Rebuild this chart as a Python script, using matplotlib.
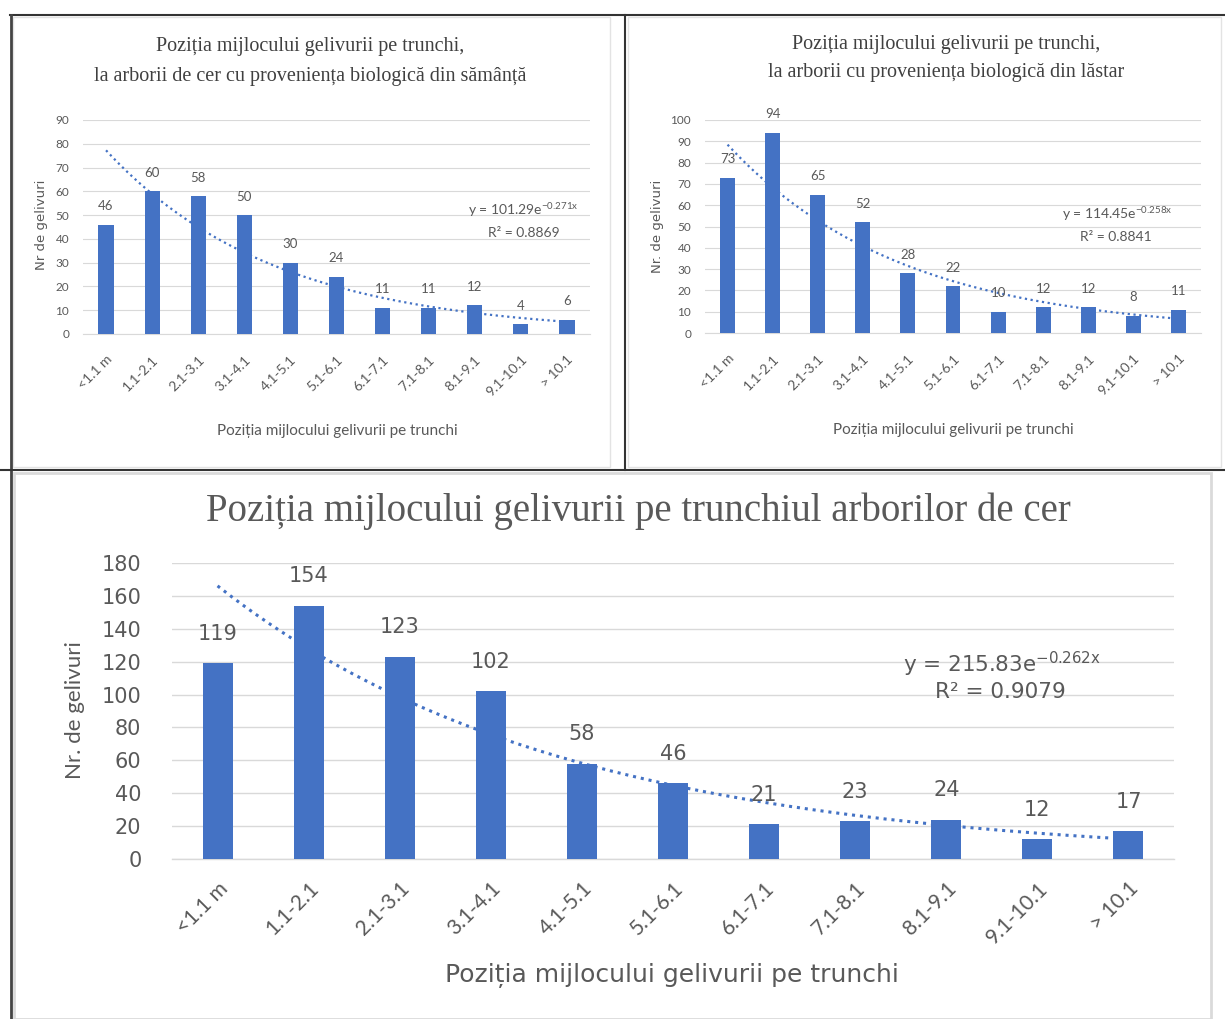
import numpy as np
import matplotlib.pyplot as plt
from matplotlib.lines import Line2D
from matplotlib.patches import Rectangle

W, H = 1225, 1019

categorii = ['<1.1 m', '1.1-2.1', '2.1-3.1', '3.1-4.1', '4.1-5.1', '5.1-6.1',
             '6.1-7.1', '7.1-8.1', '8.1-9.1', '9.1-10.1', '> 10.1']
samanta = [46, 60, 58, 50, 30, 24, 11, 11, 12, 4, 6]
lastar = [73, 94, 65, 52, 28, 22, 10, 12, 12, 8, 11]
total = [119, 154, 123, 102, 58, 46, 21, 23, 24, 12, 17]

# coeficientii liniei de tendinta exponentiale (y = a*e^(b*x)) si R^2
trend_samanta = (101.29, -0.271, 0.8869)
trend_lastar = (114.45, -0.258, 0.8841)
trend_total = (215.83, -0.262, 0.9079)

ALBASTRU = '#4472C4'
GRI_TEXT = '#595959'
GRI_GRID = '#D9D9D9'
SERIF = 'Liberation Serif'
CALIBRI = 'Lato'

fig = plt.figure(figsize=(W / 100, H / 100), dpi=100)


def ax_px(left, top, right, bottom):
    return fig.add_axes([left / W, 1 - bottom / H, (right - left) / W, (bottom - top) / H])


def ftext(x, y, s, **kw):
    return fig.text(x / W, 1 - y / H, s, **kw)


def fline(x0, y0, x1, y1, **kw):
    fig.add_artist(Line2D([x0 / W, x1 / W], [1 - y0 / H, 1 - y1 / H],
                          transform=fig.transFigure, **kw))


def frect(x0, y0, x1, y1, **kw):
    fig.add_artist(Rectangle((x0 / W, 1 - y1 / H), (x1 - x0) / W, (y1 - y0) / H,
                             transform=fig.transFigure, fill=False, **kw))


# chenarele graficelor
frect(13, 17, 610, 467, edgecolor='#E3E3E3', linewidth=1)
frect(628, 17, 1221, 467, edgecolor='#E3E3E3', linewidth=1)
frect(14, 473, 1211, 1019, edgecolor='#DADADA', linewidth=2)
fline(10, 15, 1225, 15, color='#333333', linewidth=1.5)
fline(11, 15, 11, 1019, color='#444444', linewidth=2)
fline(625, 15, 625, 470, color='#333333', linewidth=1.5)
fline(0, 470, 1225, 470, color='#333333', linewidth=1.5)


def grafic(ax, valori, trend, ymax, pas, fs_tick, fs_val, fs_cat, off_val,
           font_tick, lw_trend, lw_grid):
    x = np.arange(len(valori))
    ax.bar(x, valori, width=0.33, color=ALBASTRU, zorder=3)
    a, b, _ = trend
    xt = np.linspace(1, len(valori), 200)
    ax.plot(xt - 1, a * np.exp(b * xt), linestyle=(0, (1, 1.6)), color=ALBASTRU,
            linewidth=lw_trend, zorder=4)
    for xi, v in zip(x, valori):
        ax.annotate(str(v), (xi, v), xytext=(0, off_val), textcoords='offset points',
                    ha='center', va='bottom', fontsize=fs_val, color=GRI_TEXT,
                    family=font_tick, zorder=5)
    ax.set_xlim(-0.5, len(valori) - 0.5)
    ax.set_ylim(0, ymax)
    ax.set_yticks(np.arange(0, ymax + 1, pas))
    ax.yaxis.grid(True, color=GRI_GRID, linewidth=lw_grid, zorder=0)
    ax.set_axisbelow(True)
    for s in ['top', 'right', 'left']:
        ax.spines[s].set_visible(False)
    ax.spines['bottom'].set_color(GRI_GRID)
    ax.spines['bottom'].set_linewidth(lw_grid)
    ax.tick_params(length=0, labelcolor=GRI_TEXT)
    ax.tick_params(axis='y', labelsize=fs_tick, pad=10)
    for t in ax.get_yticklabels():
        t.set_family(font_tick)
    ax.set_xticks(x)
    ax.set_xticklabels(categorii, rotation=45, ha='right', rotation_mode='anchor',
                       fontsize=fs_cat, family=CALIBRI)
    ax.patch.set_alpha(0)


# stanga sus: samanta
ax1 = ax_px(83, 120, 590, 334)
grafic(ax1, samanta, trend_samanta, 90, 10, 8.5, 9.5, 10, 9, CALIBRI, 1.6, 0.8)
ax1.tick_params(axis='x', pad=14)
ftext(310, 47, 'Poziția mijlocului gelivurii pe trunchi,', ha='center', va='center',
      fontsize=14.5, family=SERIF, color='#404040')
ftext(310, 77, 'la arborii de cer cu proveniența biologică din sămânță', ha='center',
      va='center', fontsize=14.5, family=SERIF, color='#404040')
ftext(42, 225, 'Nr de gelivuri', rotation=90, ha='center', va='center', fontsize=9.5,
      color=GRI_TEXT)
ftext(337, 431, 'Poziția mijlocului gelivurii pe trunchi', ha='center', va='center',
      fontsize=11, family=CALIBRI, color=GRI_TEXT)
ftext(523, 210, r'y = 101.29e$^{\mathregular{-0.271x}}$', ha='center', va='center',
      fontsize=10, family=CALIBRI, color=GRI_TEXT)
ftext(524, 233, 'R² = 0.8869', ha='center', va='center', fontsize=10, family=CALIBRI,
      color=GRI_TEXT)

# dreapta sus: lastar
ax2 = ax_px(705, 120, 1201, 333)
grafic(ax2, lastar, trend_lastar, 100, 10, 8.5, 9.5, 10, 9, CALIBRI, 1.6, 0.8)
ax2.tick_params(axis='x', pad=14)
ftext(946, 44, 'Poziția mijlocului gelivurii pe trunchi,', ha='center', va='center',
      fontsize=14.5, family=SERIF, color='#404040')
ftext(946, 73, 'la arborii cu proveniența biologică din lăstar', ha='center',
      va='center', fontsize=14.5, family=SERIF, color='#404040')
ftext(657, 226, 'Nr. de gelivuri', rotation=90, ha='center', va='center', fontsize=9.5,
      color=GRI_TEXT)
ftext(953, 430, 'Poziția mijlocului gelivurii pe trunchi', ha='center', va='center',
      fontsize=11, family=CALIBRI, color=GRI_TEXT)
ftext(1117, 214, r'y = 114.45e$^{\mathregular{-0.258x}}$', ha='center', va='center',
      fontsize=10, family=CALIBRI, color=GRI_TEXT)
ftext(1116, 237, 'R² = 0.8841', ha='center', va='center', fontsize=10, family=CALIBRI,
      color=GRI_TEXT)

# jos: total
ax3 = ax_px(172, 563, 1174, 859)
grafic(ax3, total, trend_total, 180, 20, 15, 15, 15, 14, 'DejaVu Sans', 2.2, 1.0)
ax3.tick_params(axis='x', pad=14)
ax3.tick_params(axis='y', pad=22)
ftext(638, 511, 'Poziția mijlocului gelivurii pe trunchiul arborilor de cer', ha='center',
      va='center', fontsize=28, family=SERIF, color=GRI_TEXT)
ftext(75, 710, 'Nr. de gelivuri', rotation=90, ha='center', va='center', fontsize=16,
      family=CALIBRI, color=GRI_TEXT)
ftext(672, 975, 'Poziția mijlocului gelivurii pe trunchi', ha='center', va='center',
      fontsize=18, color=GRI_TEXT)
ftext(1002, 664, r'y = 215.83e$^{\mathregular{-0.262x}}$', ha='center', va='center',
      fontsize=15.5, color=GRI_TEXT)
ftext(1000, 692, 'R² = 0.9079', ha='center', va='center', fontsize=15.5, color=GRI_TEXT)

plt.savefig('out.png', dpi=100)
